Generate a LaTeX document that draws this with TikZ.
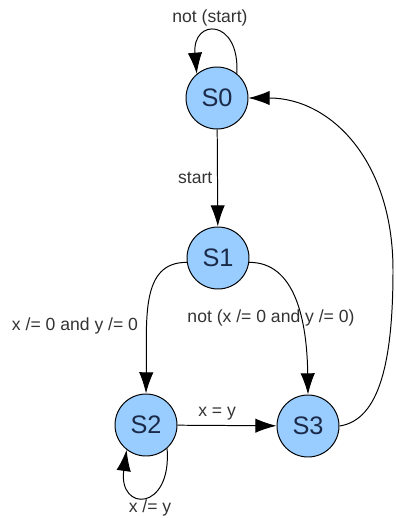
\documentclass[tikz,border=0pt]{standalone}
\usepackage{fontspec}
\setmainfont{Liberation Sans}
\usetikzlibrary{arrows.meta}
\definecolor{FSM_Blue}{HTML}{99CCFF}
\definecolor{FSM_Navy}{HTML}{1B2A48}
\definecolor{FSM_Gray}{HTML}{333333}

\begin{document}
\begin{tikzpicture}[x=0.25mm, y=-0.25mm, line width=0.7pt,
    state/.style={circle, draw, fill=FSM_Blue, minimum size=15.5mm, inner sep=0pt,
                  font=\fontsize{18}{20}\selectfont, text=FSM_Navy},
    lbl/.style={font=\fontsize{12.5}{14}\selectfont, text=FSM_Gray},
    trans/.style={-{Latex[length=5.3mm,width=3.6mm]}}]
    \useasboundingbox (0,0) rectangle (395,518);

    % States
    \node[state] (S0) at (217,98) {S0};
    \node[state] (S1) at (218,258) {S1};
    \node[state] (S2) at (146,425) {S2};
    \node[state] (S3) at (308,426) {S3};

    % S0 transitions
    \draw[trans] (S0.51) .. controls (240,18) and (192,18) .. (S0.130);
    \node[lbl] (l00) at (210,18) {not (start)};
    \draw[trans] (S0) -- (S1) node[midway, left, lbl] (l01) {start};

    % S1 transitions
    \draw[trans] (S1.188) .. controls (140,262) and (147,320) .. (S2.north);
    \node[lbl] (l12) at (75,326) {x /= 0 and y /= 0};
    \draw[trans] (S1.352) .. controls (295,262) and (307,320) .. (S3.north);
    \node[lbl] (l13) at (271,318) {not (x /= 0 and y /= 0)};

    % S2 transitions
    \draw[trans] (S2.-48) .. controls (172,512) and (118,512) .. (S2.-128);
    \node[lbl] (l22) at (150,508) {x /= y};
    \draw[trans] (S2) -- (S3) node[pos=0.4, above, lbl] (l23) {x = y};

    % S3 transitions
    \draw[trans] (S3.east) .. controls (380,420) and (393,360) .. (393,270)
                           .. controls (393,160) and (330,98) .. (S0.east);
\end{tikzpicture}
\end{document}
